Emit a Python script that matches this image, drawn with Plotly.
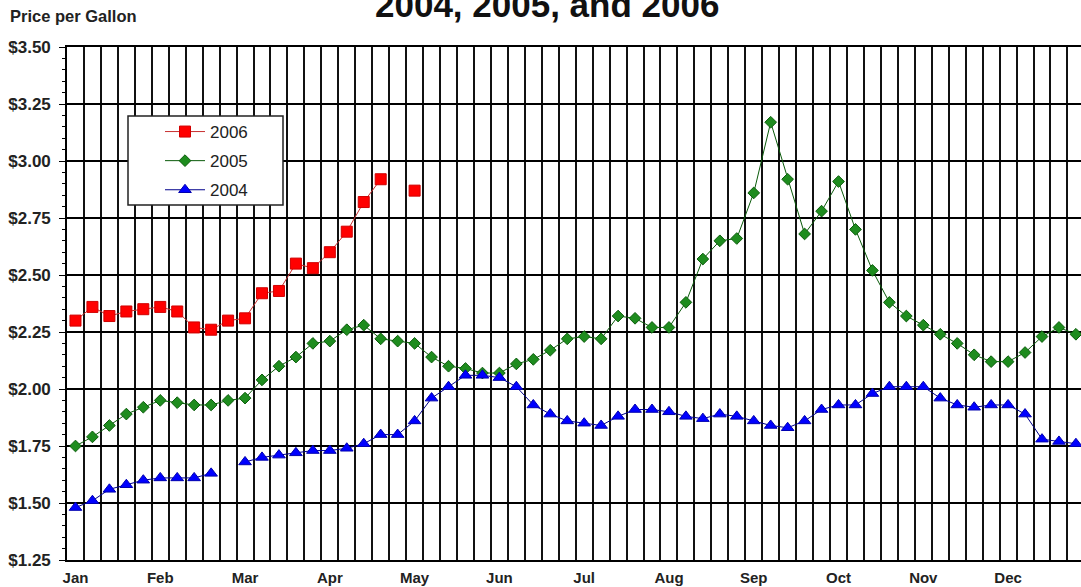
import plotly.graph_objects as go

months = ["Jan", "Feb", "Mar", "Apr", "May", "Jun", "Jul", "Aug", "Sep", "Oct", "Nov", "Dec"]
slots_per_month = 5
n_slots = 60

price_2006 = [2.30, 2.36, 2.32, 2.34, 2.35, 2.36, 2.34, 2.27, 2.26, 2.30,
              2.31, 2.42, 2.43, 2.55, 2.53, 2.60, 2.69, 2.82, 2.92, None,
              2.87]

price_2005 = [1.75, 1.79, 1.84, 1.89, 1.92, 1.95, 1.94, 1.93, 1.93, 1.95,
              1.96, 2.04, 2.10, 2.14, 2.20, 2.21, 2.26, 2.28, 2.22, 2.21,
              2.20, 2.14, 2.10, 2.09, 2.07, 2.07, 2.11, 2.13, 2.17, 2.22,
              2.23, 2.22, 2.32, 2.31, 2.27, 2.27, 2.38, 2.57, 2.65, 2.66,
              2.86, 3.17, 2.92, 2.68, 2.78, 2.91, 2.70, 2.52, 2.38, 2.32,
              2.28, 2.24, 2.20, 2.15, 2.12, 2.12, 2.16, 2.23, 2.27, 2.24]

price_2004 = [1.48, 1.51, 1.56, 1.58, 1.60, 1.61, 1.61, 1.61, 1.63, None,
              1.68, 1.70, 1.71, 1.72, 1.73, 1.73, 1.74, 1.76, 1.80, 1.80,
              1.86, 1.96, 2.01, 2.06, 2.06, 2.05, 2.01, 1.93, 1.89, 1.86,
              1.85, 1.84, 1.88, 1.91, 1.91, 1.90, 1.88, 1.87, 1.89, 1.88,
              1.86, 1.84, 1.83, 1.86, 1.91, 1.93, 1.93, 1.98, 2.01, 2.01,
              2.01, 1.96, 1.93, 1.92, 1.93, 1.93, 1.89, 1.78, 1.77, 1.76]

series = [
    ("2006", price_2006, "square", 11, "#FF0000", "#D00000", "#C83030"),
    ("2005", price_2005, "diamond", 9, "#1E8C1E", "#0B5D0B", "#0A5A0A"),
    ("2004", price_2004, "triangle-up", 11, "#0000FF", "#0000B0", "#00008B"),
]

W, H = 1081, 587
L, R, T, B = 67, 0, 47, 27
pw, ph = W - L - R, H - T - B
x_lo, x_hi = -0.5, 59.3

fig = go.Figure()
for name, vals, sym, size, fill, edge, lcol in series:
    fig.add_trace(go.Scatter(
        x=list(range(len(vals))), y=vals, name=name, mode="lines+markers",
        connectgaps=False, legendgroup=name,
        line=dict(color=lcol, width=1),
        marker=dict(symbol=sym, size=size, color=fill, line=dict(color=edge, width=1)),
    ))

def px_x(p):
    return (p - L) / pw

def px_y(p):
    return (H - B - p) / ph

fig.update_layout(
    width=W, height=H,
    margin=dict(l=L, r=R, t=T, b=B, autoexpand=False),
    paper_bgcolor="white", plot_bgcolor="white",
    showlegend=True,
    legend=dict(
        x=px_x(160), y=px_y(114), xanchor="left", yanchor="top",
        bgcolor="rgba(0,0,0,0)", borderwidth=0,
        font=dict(family="Liberation Sans", size=17, color="#222"),
        traceorder="grouped", tracegroupgap=4, itemwidth=40,
    ),
    shapes=[dict(type="rect", xref="paper", yref="paper",
                 x0=px_x(128), x1=px_x(283), y0=px_y(205), y1=px_y(116),
                 fillcolor="white", line=dict(color="#222", width=1.5), layer="above")],
    annotations=[
        dict(text="<b>2004, 2005, and 2006</b>", xref="paper", yref="paper",
             x=px_x(547), y=px_y(26), xanchor="center", yanchor="bottom",
             showarrow=False, font=dict(family="Liberation Sans", size=35, color="#111")),
        dict(text="<b>Price per Gallon</b>", xref="paper", yref="paper",
             x=px_x(8), y=px_y(16), xanchor="left", yanchor="middle",
             showarrow=False, font=dict(family="Liberation Sans", size=16.5, color="#222")),
    ],
)

fig.update_xaxes(
    range=[x_lo, x_hi], automargin=False,
    tickvals=[i * slots_per_month for i in range(len(months))], ticktext=months,
    ticks="", showgrid=False, zeroline=False,
    showline=True, linecolor="black", linewidth=1.6, mirror=True,
    tickfont=dict(family="Liberation Sans", size=15, color="#222", weight="bold"),
    ticklabelstandoff=3,
    minor=dict(tick0=0.5, dtick=1, showgrid=True, gridcolor="#111111", gridwidth=1.5, ticks=""),
)
fig.update_yaxes(
    range=[1.25, 3.50], dtick=0.25, tick0=1.25, tickformat="$.2f", automargin=False,
    showgrid=True, gridcolor="black", gridwidth=1.6, zeroline=False,
    showline=True, linecolor="black", linewidth=1.6,
    ticks="outside", ticklen=6, tickcolor="black", tickwidth=1.4,
    tickfont=dict(family="Liberation Sans", size=17, color="#222", weight="bold"),
    ticklabelstandoff=5,
    minor=dict(dtick=0.05, ticks="outside", ticklen=3, tickcolor="black", tickwidth=1, showgrid=False),
)

fig.write_html("out.html", config={"displayModeBar": False},
               post_script="document.body.style.margin='0';document.body.style.overflow='hidden';")
